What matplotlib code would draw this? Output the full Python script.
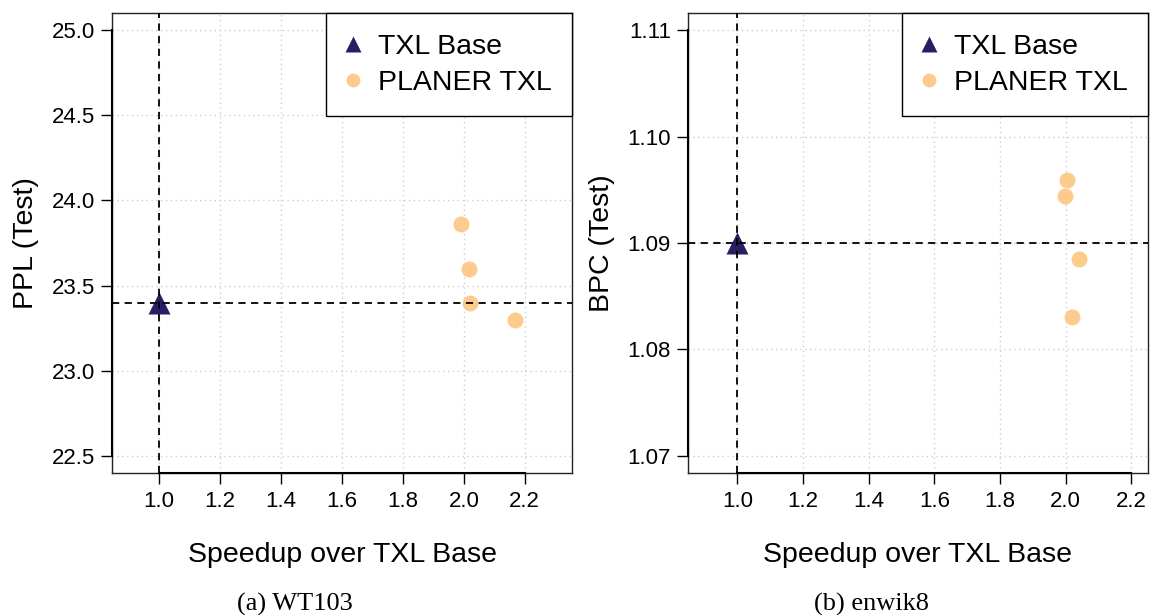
import matplotlib
matplotlib.use("Agg")
import matplotlib.pyplot as plt
from matplotlib.lines import Line2D

plt.rcParams["font.family"] = ["Liberation Sans", "DejaVu Sans"]

# WT103 panel
wt_base_speed = [1.0]
wt_base_ppl = [23.4]
wt_planer_speed = [1.99, 2.018, 2.021, 2.168]
wt_planer_ppl = [23.86, 23.595, 23.40, 23.297]
wt_xticks = [1.0, 1.2, 1.4, 1.6, 1.8, 2.0, 2.2]
wt_yticks = [22.5, 23.0, 23.5, 24.0, 24.5, 25.0]

# enwik8 panel
ek_base_speed = [1.0]
ek_base_bpc = [1.09]
ek_planer_speed = [2.004, 1.999, 2.041, 2.019]
ek_planer_bpc = [1.0959, 1.0944, 1.0885, 1.0830]
ek_xticks = [1.0, 1.2, 1.4, 1.6, 1.8, 2.0, 2.2]
ek_yticks = [1.07, 1.08, 1.09, 1.10, 1.11]

series_labels = ["TXL Base", "PLANER TXL"]
base_color = "#2C1C63"
planer_color = "#FDCB8C"

W, H = 1150, 615
fig = plt.figure(figsize=(W / 100, H / 100), dpi=100)


def px_axes(x0, x1, y0, y1):
    return fig.add_axes([x0 / W, 1 - y1 / H, (x1 - x0) / W, (y1 - y0) / H])


def draw_panel(ax, bx, by, px, py, xticks, yticks, xlim, ylim, yfmt, ylabel, caption, cap_x):
    ax.set_xlim(*xlim)
    ax.set_ylim(*ylim)
    ax.set_xticks(xticks)
    ax.set_yticks(yticks)
    ax.set_xticklabels([f"{t:.1f}" for t in xticks])
    ax.set_yticklabels([yfmt.format(t) for t in yticks])
    ax.tick_params(direction="out", length=8, width=1.0, labelsize=16, colors="black")
    ax.tick_params(axis="x", pad=5.5)
    ax.tick_params(axis="y", pad=4)
    ax.grid(True, color="#cfcfcf", linestyle=(0, (1, 2.5)), linewidth=1.0)
    ax.set_axisbelow(True)
    for s in ax.spines.values():
        s.set_linewidth(1.0)
        s.set_color("#222222")
    # axis lines spanning first to last tick
    ax.plot([xticks[0], xticks[-1]], [0, 0], color="black", lw=1.5,
            transform=ax.get_xaxis_transform(), clip_on=False, zorder=5)
    ax.plot([0, 0], [yticks[0], yticks[-1]], color="black", lw=1.5,
            transform=ax.get_yaxis_transform(), clip_on=False, zorder=5)

    ax.plot(px, py, linestyle="none", marker="o", ms=11.5, color=planer_color,
            mec="none", zorder=3)
    ax.plot(bx, by, linestyle="none", marker="^", ms=15.5, color=base_color,
            mec="none", zorder=3)
    ax.axvline(bx[0], color="black", lw=1.3, linestyle=(0, (4, 3)), zorder=4)
    ax.axhline(by[0], color="black", lw=1.3, linestyle=(0, (4, 3)), zorder=4)

    handles = [
        Line2D([], [], linestyle="none", marker="^", ms=12, color=base_color, mec="none"),
        Line2D([], [], linestyle="none", marker="o", ms=10, color=planer_color, mec="none"),
    ]
    leg = ax.legend(handles, series_labels, loc="upper right", fontsize=20.5,
                    frameon=True, fancybox=False, borderaxespad=0,
                    borderpad=0.72, labelspacing=0.35, handlelength=0.42,
                    handletextpad=0.68)
    leg.get_frame().set_edgecolor("black")
    leg.get_frame().set_linewidth(1.0)
    leg.get_frame().set_alpha(1)
    leg.set_zorder(10)

    ax.set_xlabel("Speedup over TXL Base", fontsize=20.5, va="center")
    ax.xaxis.set_label_coords(0.5, -0.179)
    ax.set_ylabel(ylabel, fontsize=20.5, va="center")
    ax.yaxis.set_label_coords(-0.185, 0.5)

    fig.text(cap_x / W, 1 - 604 / H, caption, ha="center", va="center",
             fontsize=19, family=["Liberation Serif", "DejaVu Serif"])


ax1 = px_axes(111.7, 572.3, 13.3, 472.7)
draw_panel(ax1, wt_base_speed, wt_base_ppl, wt_planer_speed, wt_planer_ppl,
           wt_xticks, wt_yticks, (0.844, 2.356), (22.4, 25.1), "{:.1f}",
           "PPL (Test)", "(a) WT103", 294.5)

ax2 = px_axes(687.5, 1148.3, 13.3, 472.7)
draw_panel(ax2, ek_base_speed, ek_base_bpc, ek_planer_speed, ek_planer_bpc,
           ek_xticks, ek_yticks, (0.848, 2.252), (1.0684, 1.1116), "{:.2f}",
           "BPC (Test)", "(b) enwik8", 871)

fig.savefig("out.png", dpi=100)
